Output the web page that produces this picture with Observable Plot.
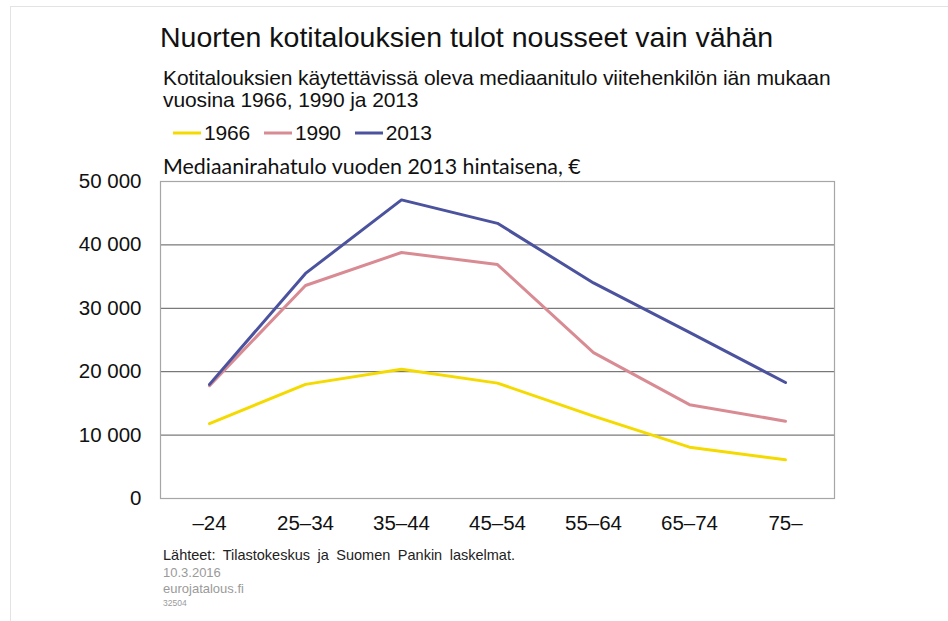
<!DOCTYPE html>
<html>
<head>
<meta charset="utf-8">
<script src="https://cdn.jsdelivr.net/npm/d3@7"></script>
<script src="https://cdn.jsdelivr.net/npm/@observablehq/plot@0.6"></script>
<style>
  html, body { margin: 0; padding: 0; background: #fff; }
  #page { position: relative; width: 948px; height: 621px; overflow: hidden; font-family: "Liberation Sans", Arial, sans-serif; color: #111; }
  #page .abs { position: absolute; white-space: nowrap; }
  #border-top { position: absolute; left: 10px; top: 6px; width: 938px; height: 1px; background: #e3e3e3; }
  #border-left { position: absolute; left: 10px; top: 6px; width: 1px; height: 615px; background: #e3e3e3; }
  #title { left: 160px; top: 21px; font-size: 28.5px; }
  #subtitle { left: 163px; top: 67px; font-size: 21px; line-height: 22px; letter-spacing: -0.1px; }
  #legend { left: 173px; top: 121px; font-size: 21px; display: flex; align-items: center; letter-spacing: -0.2px; }
  #legend .item { display: flex; align-items: center; margin-right: 14px; }
  #legend svg { margin-right: 3px; }
  #ytitle { left: 163px; top: 153px; font-family: Lato, "Open Sans", sans-serif; font-size: 21.4px; }
  #chart { position: absolute; left: 0; top: 165px; }
  #src { left: 163px; top: 547px; font-size: 14.5px; color: #222; word-spacing: 3.5px; }
  #date { left: 163px; top: 565px; font-size: 13px; color: #9a9a9a; }
  #site { left: 163px; top: 581px; font-size: 13px; color: #9a9a9a; }
  #code { left: 163px; top: 598px; font-size: 8.5px; color: #9a9a9a; }
</style>
</head>
<body>
<div id="page">
  <div id="border-top"></div>
  <div id="border-left"></div>
  <div id="title" class="abs">Nuorten kotitalouksien tulot nousseet vain vähän</div>
  <div id="subtitle" class="abs">Kotitalouksien käytettävissä oleva mediaanitulo viitehenkilön iän mukaan<br>vuosina 1966, 1990 ja 2013</div>
  <div id="legend" class="abs"></div>
  <div id="ytitle" class="abs">Mediaanirahatulo vuoden 2013 hintaisena, €</div>
  <div id="chart"></div>
  <div id="src" class="abs">Lähteet: Tilastokeskus ja Suomen Pankin laskelmat.</div>
  <div id="date" class="abs">10.3.2016</div>
  <div id="site" class="abs">eurojatalous.fi</div>
  <div id="code" class="abs">32504</div>
</div>
<script>
// ---- data ----
const ageGroups = ["–24", "25–34", "35–44", "45–54", "55–64", "65–74", "75–"];
const years = ["1966", "1990", "2013"];
const values1966 = [11800, 18000, 20400, 18200, 13000, 8100, 6100];
const values1990 = [17800, 33600, 38800, 36900, 23000, 14800, 12200];
const values2013 = [18000, 35500, 47100, 43400, 34000, 26200, 18300];
const yTicks = [0, 10000, 20000, 30000, 40000, 50000];
const gridValues = [10000, 20000, 30000, 40000];
const seriesColors = ["#f5da00", "#d98b93", "#4b529e"];

const seriesValues = [values1966, values1990, values2013];
const rows = [];
years.forEach((yr, i) => {
  ageGroups.forEach((a, j) => rows.push({year: yr, age: a, value: seriesValues[i][j]}));
});

// ---- legend ----
const legend = document.getElementById("legend");
years.forEach((yr, i) => {
  const item = document.createElement("div");
  item.className = "item";
  item.innerHTML = `<svg width="28" height="6"><line x1="0" x2="28" y1="3" y2="3" stroke="${seriesColors[i]}" stroke-width="3"/></svg><span>${yr}</span>`;
  legend.appendChild(item);
});

const fmt = d => d3.format(",")(d).replace(/,/g, " ");

const chart = Plot.plot({
  width: 948,
  height: 380,
  marginLeft: 160,
  marginRight: 114,
  marginTop: 16,
  marginBottom: 47,
  style: {fontFamily: "'Liberation Sans', Arial, sans-serif", fontSize: "20.5px", color: "#111", background: "transparent", overflow: "visible"},
  x: {type: "point", domain: ageGroups, padding: 0.5, label: null},
  y: {domain: [0, 50000], label: null},
  color: {domain: years, range: seriesColors},
  marks: [
    Plot.ruleY(gridValues, {stroke: "#595959", strokeWidth: 1}),
    Plot.frame({stroke: "#a6a6a6", strokeWidth: 1.2}),
    Plot.axisY(yTicks, {tickSize: 0, tickPadding: 19, tickFormat: fmt, fontSize: 20.5, label: null}),
    Plot.axisX({tickSize: 0, tickPadding: 17, fontSize: 20.5, label: null}),
    Plot.line(rows, {x: "age", y: "value", z: "year", stroke: "year", strokeWidth: 3, strokeLinejoin: "round"})
  ]
});
document.getElementById("chart").appendChild(chart);
</script>
</body>
</html>
